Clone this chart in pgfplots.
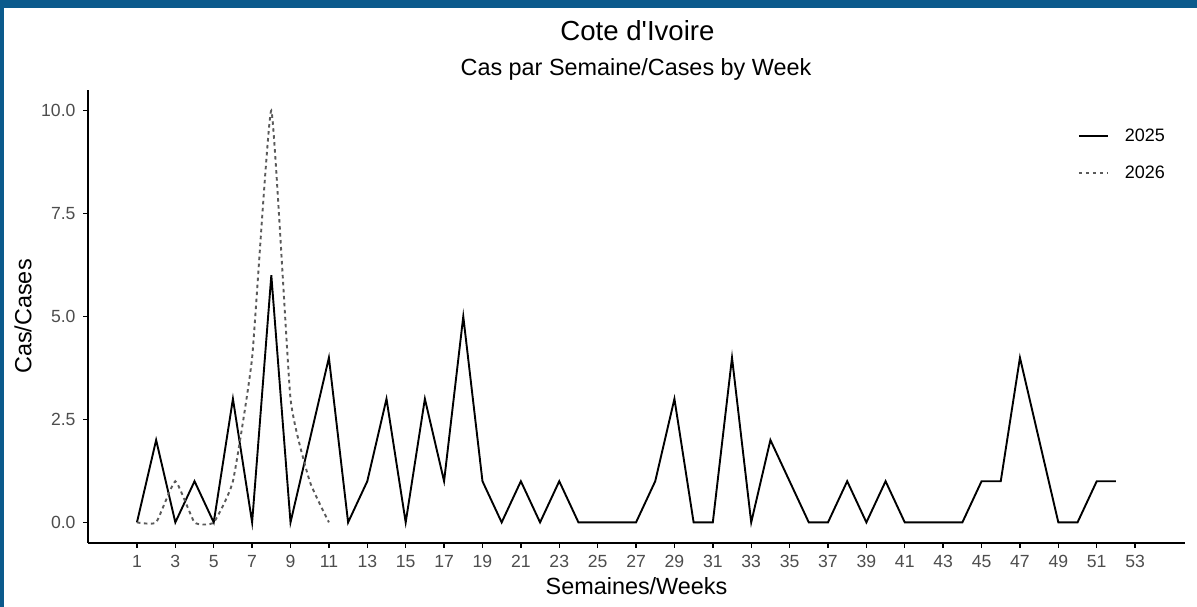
\documentclass[border=0pt]{standalone}
\usepackage{pgfplots}
\pgfplotsset{compat=1.18}
\usepackage{fontspec}
\setmainfont{Liberation Sans}
\definecolor{frameblue}{HTML}{0B5A8C}
\definecolor{ticktext}{HTML}{4D4D4D}
\definecolor{line26}{HTML}{5A5A5A}
\begin{document}
\begin{tikzpicture}[x=1pt,y=1pt]
\useasboundingbox (0,0) rectangle (1197,607);
\fill[white] (0,0) rectangle (1197,607);
\fill[frameblue] (0,599) rectangle (1197,607);
\fill[frameblue] (0,0) rectangle (4,607);
\node[anchor=base,font=\fontsize{27.6}{32}\selectfont] at (637.5,566) {Cote d\textquotesingle Ivoire};
\node[anchor=base,font=\fontsize{23.4}{27}\selectfont] at (636,531.5) {Cas par Semaine/Cases by Week};
\begin{axis}[
  at={(88pt,64pt)}, anchor=south west,
  scale only axis, width=1097pt, height=453pt,
  xmin=-1.55, xmax=55.6, ymin=-0.5, ymax=10.5,
  axis lines=left, axis line style={-, line width=1.4pt, black},
  xtick={1,3,...,53}, ytick={0,2.5,5,7.5,10},
  tick align=outside, major tick length=5pt,
  tick style={line width=1.4pt, black},
  yticklabel style={/pgf/number format/fixed, /pgf/number format/fixed zerofill, /pgf/number format/precision=1},
  /pgf/number format/assume math mode=true,
  ticklabel style={font=\fontsize{17.6}{20}\selectfont, text=ticktext},
  xticklabel style={yshift=-3.5pt},
  yticklabel style={xshift=-4pt},
  xlabel={Semaines/Weeks}, ylabel={Cas/Cases},
  label style={font=\fontsize{23.4}{27}\selectfont},
  xlabel style={at={(axis description cs:0.5,0)}, anchor=base, yshift=-52pt},
  ylabel style={at={(axis description cs:0,0.5)}, anchor=center, yshift=65pt},
  legend image code/.code={\draw[#1] (0pt,0pt) -- (29pt,0pt); \path[draw=none] (44pt,0pt);},
  legend style={at={(1,1)}, anchor=north east, xshift=-18pt, yshift=-37pt,
    draw=none, fill=none, font=\fontsize{18}{21}\selectfont,
    row sep=19pt, inner sep=0pt},
  legend cell align=left,
  clip=false,
]
\addplot[black, line width=1.9pt, line join=miter] coordinates {
(1,0)(2,2)(3,0)(4,1)(5,0)(6,3)(7,0)(8,6)(9,0)(10,2)(11,4)(12,0)(13,1)(14,3)(15,0)(16,3)(17,1)(18,5)(19,1)(20,0)(21,1)(22,0)(23,1)(24,0)(25,0)(26,0)(27,0)(28,1)(29,3)(30,0)(31,0)(32,4)(33,0)(34,2)(35,1)(36,0)(37,0)(38,1)(39,0)(40,1)(41,0)(42,0)(43,0)(44,0)(45,1)(46,1)(47,4)(48,2)(49,0)(50,0)(51,1)(52,1)
};
\addlegendentry{2025}
\addplot[line26, line width=1.9pt, dash pattern=on 3.5pt off 3.5pt, smooth, tension=0.25] coordinates {
(1,0)(2,0)(3,1)(4,0)(5,0)(6,1)(7,4)(8,10)(9,3)(10,1)(11,0)
};
\addlegendentry{2026}
\end{axis}
\end{tikzpicture}
\end{document}
